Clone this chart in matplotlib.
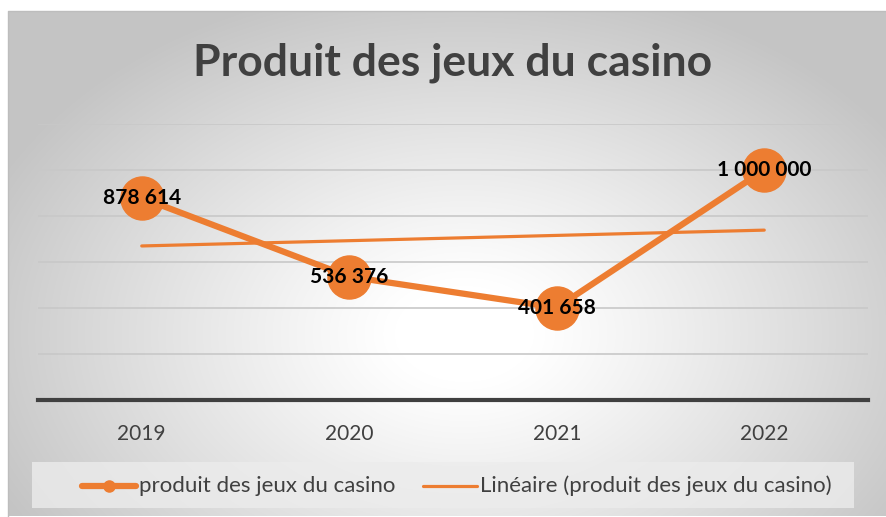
import numpy as np
import matplotlib.pyplot as plt
from matplotlib.patches import Rectangle

# data
years = ["2019", "2020", "2021", "2022"]
produit = [878614, 536376, 401658, 1000000]
labels = ["878 614", "536 376", "401 658", "1 000 000"]

orange = "#ED7D31"
dark = "#404040"
plt.rcParams['font.family'] = ['Lato', 'DejaVu Sans']

W, H = 886, 517
fig = plt.figure(figsize=(W / 100, H / 100), dpi=100)

# background: radial gradient chart area
bg = fig.add_axes([0, 0, 1, 1])
bg.set_xlim(0, W)
bg.set_ylim(H, 0)
bg.axis("off")
yy, xx = np.mgrid[0:H, 0:W]
r = np.sqrt(((xx - 460) / 470) ** 2 + ((yy - 330) / 330) ** 2)
g = np.clip(1 - 0.24 * np.clip(r - 0.15, 0, None) ** 1.1, 0.77, 1)
img = np.dstack([g, g, g])
bg.imshow(img, extent=(8, W, H - 1, 11), aspect="auto", zorder=0)
bg.plot([8, 8, W], [H - 1, 11, 11], color="#bdbdbd", lw=1, zorder=1)
# legend box
bg.add_patch(Rectangle((32, 462), 822, 46, facecolor="#ececec", alpha=0.8,
                       edgecolor="none", zorder=1))

ax = fig.add_axes([38 / W, (H - 400) / H, (868 - 38) / W, 276 / H])
ax.patch.set_alpha(0)
x = np.arange(len(years))
ax.set_xlim(-0.5, len(years) - 0.5)
ax.set_ylim(0, 1200000)
ax.set_yticks(np.arange(200000, 1200001, 200000))
ax.yaxis.grid(True, color="#c8c8c8", lw=1.2)
ax.set_axisbelow(True)
for s in ["top", "right", "left"]:
    ax.spines[s].set_visible(False)
ax.spines["bottom"].set_color(dark)
ax.spines["bottom"].set_linewidth(3)
ax.tick_params(axis="y", left=False, labelleft=False)
ax.tick_params(axis="x", bottom=False, labelsize=15, labelcolor=dark, pad=14)
ax.set_xticks(x)
ax.set_xticklabels(years)

# linear trendline
coef = np.polyfit(x, produit, 1)
trend = np.polyval(coef, x)
ax.plot(x, produit, color=orange, lw=4.5, marker="o", markersize=31,
        zorder=3, clip_on=False)
ax.plot(x, trend, color=orange, lw=2.3, zorder=2, solid_capstyle="round")

for xi, yi, lab in zip(x, produit, labels):
    ax.text(xi, yi, lab, ha="center", va="center", fontsize=15,
            fontweight="bold", color="black", zorder=4)

fig.text(453 / W, 1 - 63 / H, "Produit des jeux du casino", ha="center",
         va="center", fontsize=32, fontweight="bold", color=dark)

# legend
bg.plot([82, 136], [486, 486], color=orange, lw=4.5, solid_capstyle="round", zorder=3)
bg.plot([109], [486], marker="o", color=orange, markersize=8, zorder=3)
bg.text(139, 486, "produit des jeux du casino", ha="left", va="center",
        fontsize=16, color=dark, zorder=3)
bg.plot([423, 477], [486, 486], color=orange, lw=2.3, solid_capstyle="round", zorder=3)
bg.text(480, 486, "Linéaire (produit des jeux du casino)", ha="left", va="center",
        fontsize=16, color=dark, zorder=3)

fig.savefig("out.png", dpi=100)
